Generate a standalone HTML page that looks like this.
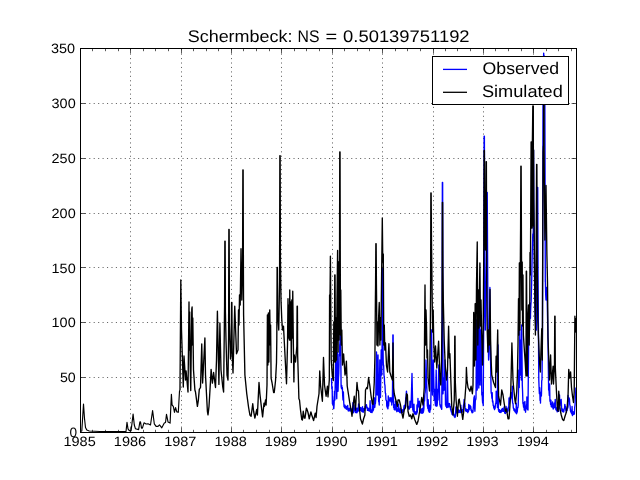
<!DOCTYPE html>
<html><head><meta charset="utf-8"><title>Schermbeck</title>
<style>html,body{margin:0;padding:0;background:#fff;}body{width:640px;height:480px;overflow:hidden;font-family:"Liberation Sans",sans-serif;}svg{display:block;will-change:transform;}text{text-rendering:geometricPrecision;}</style>
</head><body>
<svg width="640" height="480" viewBox="0 0 640 480"><rect x="0" y="0" width="640" height="480" fill="#ffffff"/>
<g stroke="#000" stroke-width="0.6" stroke-dasharray="1.11 3.33" fill="none"><line x1="130.5" y1="432.1" x2="130.5" y2="48"/><line x1="181.5" y1="432.1" x2="181.5" y2="48"/><line x1="231.5" y1="432.1" x2="231.5" y2="48"/><line x1="281.5" y1="432.1" x2="281.5" y2="48"/><line x1="332.5" y1="432.1" x2="332.5" y2="48"/><line x1="382.5" y1="432.1" x2="382.5" y2="48"/><line x1="433.5" y1="432.1" x2="433.5" y2="48"/><line x1="483.5" y1="432.1" x2="483.5" y2="48"/><line x1="533.5" y1="432.1" x2="533.5" y2="48"/><line x1="80.35" y1="377.5" x2="576" y2="377.5"/><line x1="80.35" y1="322.5" x2="576" y2="322.5"/><line x1="80.35" y1="267.5" x2="576" y2="267.5"/><line x1="80.35" y1="213.5" x2="576" y2="213.5"/><line x1="80.35" y1="158.5" x2="576" y2="158.5"/><line x1="80.35" y1="103.5" x2="576" y2="103.5"/></g>
<defs><clipPath id="pc"><rect x="80" y="48" width="497" height="385"/></clipPath></defs><g clip-path="url(#pc)"><path d="M331.50 378.00 L331.83 388.65 L332.16 386.79 L332.40 403.75 L332.49 396.39 L332.82 404.79 L333.15 400.63 L333.48 404.02 L333.60 408.75 L333.81 408.61 L334.14 403.86 L334.47 391.24 L334.80 396.25 L334.90 400.00 L335.80 355.00 L336.75 398.75 L337.50 352.50 L338.00 391.25 L338.10 389.81 L338.43 378.85 L338.76 373.15 L339.00 365.00 L339.09 354.38 L339.42 355.91 L339.75 344.37 L339.80 345.00 L340.08 340.08 L340.41 327.46 L340.50 327.00 L341.10 386.25 L341.40 388.25 L341.73 385.38 L342.06 389.14 L342.30 387.50 L342.39 387.96 L342.72 395.89 L343.00 400.00 L343.05 398.73 L343.38 391.85 L343.71 402.07 L344.04 406.76 L344.25 406.25 L344.37 404.97 L344.70 407.79 L345.03 405.28 L345.36 408.13 L345.69 406.50 L346.02 408.74 L346.10 407.50 L346.35 406.37 L346.68 409.29 L347.01 408.03 L347.34 406.37 L347.67 405.38 L348.00 410.00 L348.33 410.93 L348.66 409.13 L348.99 410.93 L349.32 408.26 L349.65 410.51 L349.98 408.54 L350.31 411.01 L350.50 409.40 L350.64 408.69 L350.97 410.61 L351.30 408.79 L351.63 410.87 L351.96 409.50 L352.29 412.26 L352.62 409.85 L352.95 402.59 L353.00 411.25 L353.28 409.97 L353.61 412.78 L353.94 404.89 L354.27 408.05 L354.60 410.89 L354.93 408.65 L355.26 411.12 L355.50 411.90 L355.59 412.50 L355.92 407.86 L356.25 412.46 L356.58 410.60 L356.91 412.73 L357.24 408.14 L357.57 411.78 L357.90 409.24 L358.00 410.60 L358.23 411.08 L358.56 403.86 L358.89 410.60 L359.22 408.12 L359.55 410.76 L359.88 408.21 L360.21 410.35 L360.50 408.75 L360.54 407.39 L360.87 409.98 L361.20 407.86 L361.53 411.19 L361.86 408.77 L362.19 411.56 L362.52 406.57 L362.85 411.97 L363.00 411.25 L363.18 409.48 L363.51 412.10 L363.84 408.60 L364.17 410.56 L364.50 408.45 L364.83 410.09 L364.90 408.75 L365.16 406.46 L365.49 408.21 L365.82 405.12 L366.10 405.00 L366.15 406.74 L366.48 404.68 L366.81 407.88 L367.14 407.02 L367.40 408.75 L367.47 410.36 L367.80 407.86 L368.13 410.35 L368.46 408.36 L368.79 410.75 L369.12 408.57 L369.25 409.40 L369.45 411.18 L369.78 408.96 L370.11 400.70 L370.44 409.34 L370.77 412.43 L371.10 409.81 L371.43 412.40 L371.75 411.90 L371.76 410.99 L372.09 412.50 L372.42 401.87 L372.75 411.17 L373.08 408.44 L373.41 410.12 L373.60 408.75 L373.74 407.34 L374.07 401.71 L374.40 397.80 L374.73 407.41 L374.90 406.25 L375.06 403.66 L375.39 403.68 L375.72 398.91 L375.75 400.00 L376.50 352.00 L377.20 395.00 L378.00 355.00 L378.60 400.00 L378.69 401.52 L379.02 402.28 L379.25 405.00 L379.80 360.00 L380.50 397.50 L381.20 350.00 L381.80 375.00 L382.08 345.25 L382.36 268.75 L382.64 268.75 L382.92 334.45 L383.20 360.00 L383.31 364.04 L383.64 365.53 L383.97 375.04 L384.25 377.50 L384.30 376.44 L384.63 383.95 L384.96 385.35 L385.29 392.37 L385.50 393.75 L385.62 393.40 L385.95 400.01 L386.28 400.26 L386.61 400.98 L386.75 406.25 L386.94 401.84 L387.27 407.75 L387.60 406.08 L387.93 408.80 L388.00 408.10 L388.26 395.95 L388.59 405.95 L388.92 400.44 L389.25 400.00 L389.58 400.91 L389.91 397.72 L390.24 400.20 L390.50 398.75 L390.57 398.01 L390.90 401.80 L391.23 401.68 L391.56 398.01 L391.75 405.00 L391.89 402.60 L392.22 402.16 L392.40 400.00 L392.58 381.80 L392.86 335.00 L393.14 335.00 L393.42 387.20 L393.60 407.50 L393.87 406.60 L394.20 409.40 L394.53 408.61 L394.86 404.45 L394.90 410.00 L395.19 408.61 L395.52 401.05 L395.85 409.18 L396.18 403.14 L396.50 410.60 L396.51 401.43 L396.84 411.70 L397.17 409.62 L397.50 410.90 L397.83 409.00 L398.00 410.00 L398.16 411.28 L398.49 404.22 L398.82 407.28 L399.15 410.20 L399.48 412.05 L399.81 410.04 L400.14 412.72 L400.47 408.10 L400.50 411.90 L400.80 412.46 L401.13 410.60 L401.46 412.72 L401.79 410.84 L402.12 412.51 L402.45 409.99 L402.78 412.41 L403.00 411.25 L403.11 409.48 L403.44 411.80 L403.77 408.48 L404.10 405.75 L404.43 407.71 L404.76 408.68 L404.90 407.50 L405.09 404.81 L405.42 403.83 L405.75 397.84 L406.08 396.60 L406.41 391.20 L406.50 391.25 L406.74 396.30 L407.07 399.00 L407.40 406.25 L407.73 407.60 L408.06 406.18 L408.39 408.24 L408.72 406.92 L409.05 409.32 L409.25 408.75 L409.38 407.71 L409.71 408.12 L410.04 401.09 L410.37 406.30 L410.50 405.00 L410.70 404.21 L411.03 407.43 L411.10 406.25 L412.00 373.50 L412.75 410.00 L413.01 408.97 L413.34 411.92 L413.67 410.77 L414.00 404.27 L414.25 412.50 L414.33 411.10 L414.66 414.00 L414.99 412.13 L415.32 414.11 L415.65 411.85 L415.98 414.51 L416.31 412.30 L416.64 411.01 L416.75 413.75 L416.97 405.05 L417.30 412.15 L417.63 408.11 L417.96 398.49 L418.00 407.50 L418.29 405.00 L418.62 406.39 L418.95 403.19 L419.00 403.75 L419.28 401.08 L419.61 407.48 L419.90 411.25 L419.94 412.60 L420.27 410.41 L420.60 412.79 L420.93 410.61 L421.26 409.16 L421.59 411.54 L421.75 412.50 L421.92 413.28 L422.25 408.31 L422.58 413.19 L422.91 410.46 L423.24 412.60 L423.57 402.71 L423.60 411.25 L423.90 408.35 L424.23 395.91 L424.50 400.00 L424.56 400.86 L424.89 393.86 L425.22 392.04 L425.50 387.50 L426.00 360.00 L427.40 406.25 L427.53 405.78 L427.86 408.48 L428.19 399.71 L428.52 410.87 L428.60 410.00 L428.85 408.94 L429.18 412.04 L429.51 405.13 L429.84 412.24 L429.90 411.25 L430.17 409.29 L430.50 409.56 L430.75 407.50 L431.08 385.80 L431.36 330.00 L431.64 330.00 L431.92 376.80 L432.50 395.00 L433.30 360.00 L434.25 400.00 L434.46 400.13 L434.79 389.50 L435.12 402.06 L435.45 405.77 L435.50 405.00 L436.20 370.00 L436.75 406.25 L436.77 405.09 L437.10 405.78 L437.43 401.71 L437.76 389.12 L438.00 400.00 L438.80 365.00 L439.90 405.00 L440.07 404.32 L440.40 406.76 L440.73 405.22 L441.06 407.97 L441.39 405.97 L441.72 409.32 L441.75 408.10 L442.08 344.93 L442.36 182.50 L442.64 182.50 L443.00 393.75 L443.04 391.70 L443.37 377.61 L443.70 388.92 L444.03 390.19 L444.25 387.50 L445.00 360.00 L445.50 405.00 L445.68 404.46 L446.01 406.31 L446.34 404.83 L446.67 407.58 L446.75 406.25 L447.40 370.00 L448.00 407.50 L448.32 405.62 L448.65 406.52 L448.98 403.48 L449.25 403.75 L449.31 404.84 L449.64 403.72 L449.97 407.51 L450.30 406.32 L450.50 408.75 L450.63 409.92 L450.96 409.41 L451.29 411.83 L451.62 411.25 L451.75 412.50 L451.95 414.20 L452.28 412.23 L452.61 414.75 L452.94 410.58 L453.27 409.74 L453.60 415.00 L453.93 414.23 L454.26 416.54 L454.59 415.33 L454.92 417.49 L455.25 416.90 L455.58 413.84 L455.91 407.03 L456.10 412.50 L456.24 410.96 L456.57 407.50 L456.90 410.49 L457.23 413.18 L457.56 408.39 L457.89 412.44 L458.00 411.25 L458.22 409.74 L458.55 412.48 L458.88 410.19 L459.21 411.91 L459.54 410.41 L459.87 412.48 L460.20 410.50 L460.50 411.25 L460.53 412.47 L460.86 405.25 L461.19 412.25 L461.52 410.15 L461.85 411.54 L462.18 409.75 L462.51 411.97 L462.84 409.56 L463.00 410.60 L463.17 410.04 L463.50 404.99 L463.83 404.27 L464.16 399.34 L464.25 400.00 L464.49 402.89 L464.82 402.94 L465.15 407.89 L465.48 408.80 L465.50 410.00 L465.81 410.98 L466.14 408.98 L466.47 411.31 L466.80 409.72 L467.13 411.66 L467.46 409.64 L467.79 412.67 L468.00 411.25 L468.12 410.21 L468.45 411.38 L468.78 404.39 L469.11 409.88 L469.44 405.51 L469.77 408.75 L470.10 405.52 L470.43 408.05 L470.50 406.25 L470.76 406.44 L471.09 410.47 L471.42 409.75 L471.75 411.90 L472.08 412.87 L472.41 410.97 L472.74 412.52 L473.00 411.90 L473.07 409.93 L473.40 406.93 L473.73 400.46 L474.00 397.50 L474.06 400.04 L474.39 395.87 L474.72 409.51 L474.90 411.25 L475.05 408.62 L475.38 399.00 L475.71 399.93 L476.00 398.00 L476.18 376.16 L476.46 320.00 L476.74 320.00 L477.02 370.40 L477.20 390.00 L477.58 367.60 L477.86 310.00 L478.14 310.00 L478.42 366.16 L478.80 388.00 L479.08 363.36 L479.36 300.00 L479.64 300.00 L479.92 361.20 L480.20 385.00 L481.00 330.00 L481.80 395.00 L481.98 392.17 L482.31 397.53 L482.40 400.00 L482.64 403.07 L482.97 402.72 L483.25 405.60 L483.80 300.00 L484.11 136.25 L484.39 136.25 L484.67 254.15 L484.80 300.00 L485.30 330.00 L485.90 300.00 L486.50 250.00 L486.68 233.90 L486.96 192.50 L487.24 192.50 L487.60 260.00 L488.00 330.00 L488.60 360.00 L488.91 353.84 L489.24 340.07 L489.30 340.00 L489.90 287.50 L490.40 350.00 L491.10 391.25 L491.22 393.21 L491.55 393.51 L491.88 398.27 L492.21 392.67 L492.40 400.00 L492.54 402.02 L492.87 401.01 L493.20 405.53 L493.53 405.34 L493.60 406.90 L493.86 408.11 L494.19 406.36 L494.52 409.61 L494.85 407.71 L494.90 408.75 L495.18 407.73 L495.51 403.54 L495.84 403.39 L496.10 400.00 L496.17 391.13 L496.50 403.35 L496.83 402.63 L497.16 402.65 L497.40 407.50 L497.76 345.00 L498.04 345.00 L498.40 410.00 L498.48 408.96 L498.81 411.43 L499.14 409.64 L499.47 412.23 L499.80 409.85 L500.13 412.30 L500.46 410.97 L500.50 411.90 L500.79 412.58 L501.12 410.47 L501.45 411.81 L501.78 409.15 L502.11 411.23 L502.40 410.00 L502.44 408.44 L502.77 411.10 L503.10 409.22 L503.43 411.42 L503.76 409.52 L504.09 406.91 L504.25 411.25 L504.42 410.63 L504.75 413.12 L505.08 410.32 L505.41 413.46 L505.74 411.40 L506.07 406.45 L506.10 412.50 L506.40 410.91 L506.73 408.19 L507.06 410.37 L507.39 412.05 L507.72 409.72 L508.00 410.00 L508.05 411.02 L508.38 407.04 L508.71 407.72 L509.04 397.98 L509.37 404.06 L509.70 400.25 L509.90 400.00 L510.03 400.80 L510.36 396.56 L510.69 397.71 L511.02 392.76 L511.10 393.75 L511.35 396.18 L511.68 394.68 L512.01 399.07 L512.34 386.29 L512.40 400.00 L512.67 403.11 L513.00 403.28 L513.33 407.90 L513.60 408.75 L513.66 408.17 L513.99 410.52 L514.32 408.97 L514.65 411.12 L514.98 409.80 L515.31 412.12 L515.50 411.25 L515.64 410.64 L515.97 413.02 L516.30 403.28 L516.63 413.72 L516.96 411.80 L517.00 412.50 L517.29 411.76 L517.62 407.53 L517.95 407.62 L518.25 405.00 L518.80 370.00 L519.25 387.50 L519.80 330.00 L520.40 375.00 L521.00 340.00 L521.30 380.00 L521.70 325.00 L522.30 385.00 L522.57 391.19 L522.90 402.68 L523.00 403.75 L523.23 403.81 L523.56 407.06 L523.89 402.71 L524.22 409.98 L524.25 408.75 L524.55 408.67 L524.88 401.36 L525.21 409.93 L525.50 411.25 L525.54 412.20 L525.87 408.46 L526.20 408.98 L526.53 404.77 L526.75 405.00 L526.86 397.03 L527.19 405.61 L527.52 409.48 L527.85 408.32 L528.00 410.00 L528.60 346.00 L528.84 328.65 L529.17 313.87 L529.50 330.00 L529.83 303.05 L530.16 318.58 L530.49 318.17 L530.50 315.00 L530.82 305.42 L531.15 301.14 L531.48 288.58 L531.50 290.00 L532.20 255.00 L532.80 234.00 L533.13 235.86 L533.30 229.00 L533.55 150.00 L533.80 200.00 L534.30 258.00 L534.80 300.00 L535.30 320.00 L535.44 318.28 L535.77 327.54 L536.10 324.11 L536.40 330.00 L537.00 250.00 L537.18 232.50 L537.46 187.50 L537.74 187.50 L538.02 268.50 L538.20 300.00 L538.80 380.00 L539.25 391.25 L539.40 393.64 L539.73 387.73 L540.06 400.48 L540.39 400.42 L540.50 403.10 L540.72 392.51 L541.05 396.21 L541.38 395.93 L541.50 393.75 L541.71 380.77 L542.00 380.00 L542.50 330.00 L542.90 150.00 L543.10 60.00 L543.36 64.27 L543.69 53.06 L544.02 64.31 L544.35 55.97 L544.68 66.72 L544.70 60.00 L545.00 150.00 L545.30 282.00 L545.34 279.21 L545.67 294.48 L546.00 300.00 L546.33 289.92 L546.50 287.50 L546.66 293.46 L546.99 292.85 L547.20 300.00 L548.00 340.00 L548.60 387.50 L548.64 389.91 L548.97 389.84 L549.30 395.50 L549.63 384.02 L549.90 400.00 L549.96 401.24 L550.29 399.88 L550.62 404.38 L550.95 400.17 L551.10 405.00 L551.28 406.59 L551.61 404.65 L551.94 407.17 L552.27 404.38 L552.60 401.92 L552.93 407.11 L553.00 408.10 L553.26 409.01 L553.59 406.10 L553.92 407.76 L554.25 403.16 L554.50 406.25 L554.58 407.68 L554.91 405.45 L555.24 399.40 L555.57 406.72 L555.90 409.71 L556.10 408.75 L556.23 407.45 L556.56 410.51 L556.89 409.59 L557.22 411.92 L557.40 411.25 L557.55 410.43 L557.88 411.45 L558.21 406.85 L558.54 411.41 L558.75 410.00 L558.87 408.09 L559.20 408.39 L559.53 395.00 L559.86 405.49 L560.19 401.51 L560.52 401.94 L560.60 400.00 L560.85 400.44 L561.18 399.47 L561.51 406.30 L561.84 410.90 L561.90 410.00 L562.17 408.74 L562.50 411.29 L562.83 409.58 L563.16 411.97 L563.49 409.84 L563.75 411.25 L563.82 411.73 L564.15 408.59 L564.48 408.49 L564.81 404.33 L565.00 405.00 L565.14 406.70 L565.47 406.37 L565.80 410.52 L566.13 409.36 L566.25 411.25 L566.46 412.24 L566.79 408.35 L567.12 410.37 L567.45 406.65 L567.78 408.08 L568.10 406.25 L568.11 395.40 L568.44 400.85 L568.77 401.37 L569.10 397.94 L569.40 400.00 L569.43 398.83 L569.76 404.78 L570.09 405.74 L570.42 410.55 L570.60 411.25 L570.75 410.11 L571.08 412.73 L571.41 411.13 L571.74 413.85 L572.07 406.42 L572.40 415.57 L572.50 414.40 L572.73 412.90 L573.06 411.60 L573.39 412.50 L573.72 414.46 L574.05 412.71 L574.38 413.98 L574.40 413.10 L574.71 407.31 L575.04 404.92 L575.25 400.00 L575.37 396.02 L575.70 392.17 L575.90 387.50" fill="none" stroke="#0000ff" stroke-width="1.35" stroke-linejoin="round" stroke-linecap="butt"/><path d="M80.50 431.50 L81.80 431.00 L83.50 404.00 L84.50 418.50 L85.50 427.50 L86.80 430.00 L89.30 431.00 L100.00 431.50 L126.00 431.50 L127.00 422.30 L128.00 428.80 L129.30 430.60 L131.10 430.60 L133.10 414.00 L134.30 425.00 L135.50 428.80 L138.60 429.60 L139.90 421.90 L140.50 421.90 L141.50 428.10 L142.40 428.10 L144.00 422.80 L146.10 424.00 L148.00 423.80 L150.50 425.00 L152.60 410.60 L154.30 423.80 L156.10 426.30 L158.00 426.30 L159.50 424.80 L161.80 427.80 L164.30 423.10 L165.50 422.50 L166.50 414.40 L168.00 421.90 L170.10 423.10 L171.40 394.40 L172.10 405.00 L173.30 406.30 L174.50 412.30 L175.50 407.50 L176.80 411.90 L178.30 412.30 L179.50 391.30 L180.00 390.00" fill="none" stroke="#000000" stroke-width="1.15" stroke-linejoin="round" stroke-linecap="butt"/><path d="M180.00 390.00 L180.80 280.00 L181.50 330.00 L183.30 387.00 L184.00 356.00 L185.50 380.00 L186.10 371.00 L188.00 392.00 L188.70 330.00 L189.00 302.00 L189.40 350.00 L189.70 312.00 L190.20 365.00 L190.75 390.60 L191.40 335.00 L191.80 309.00 L192.10 307.00 L192.50 345.00 L192.80 318.00 L193.50 370.00 L194.90 390.00 L195.50 392.00 L197.40 406.30 L198.30 400.60 L199.30 389.40 L200.50 387.50 L201.75 344.00 L202.60 383.00 L203.60 363.75 L204.90 338.00 L205.50 375.00 L207.40 411.30 L208.00 414.80 L209.00 406.30 L210.50 381.30 L211.10 369.40 L212.40 383.10 L213.60 372.50 L215.50 387.50 L216.50 360.00 L217.40 311.25 L218.90 384.40 L219.90 323.00 L221.00 370.00 L222.75 387.00 L223.60 392.00 L224.30 330.00 L224.58 305.15 L224.86 241.25 L225.14 241.25 L225.42 312.35 L226.00 340.00 L227.00 375.00 L228.00 380.00 L228.58 337.86 L228.86 229.50 L229.14 229.50 L229.42 322.74 L230.50 359.00 L231.33 343.18 L231.61 302.50 L231.89 302.50 L232.17 353.26 L233.00 373.00 L234.75 306.25 L236.50 353.75 L238.00 350.00 L238.50 310.00 L239.00 325.00 L239.50 295.00 L240.20 305.00 L241.00 248.75 L241.80 300.00 L242.58 263.60 L242.86 170.00 L243.14 170.00 L243.42 274.40 L243.60 315.00 L244.90 375.00 L246.75 393.75 L248.60 407.50 L249.90 415.00 L251.10 416.25 L252.75 403.75 L253.60 411.25 L254.90 418.10 L256.75 409.40 L257.40 415.00 L259.00 382.50 L259.90 393.75 L261.10 404.40 L262.60 416.90 L264.00 403.10 L264.50 406.25 L265.50 400.00 L266.10 405.00 L267.00 385.00 L267.40 315.00 L267.90 365.00 L268.40 313.00 L268.90 362.00 L269.30 320.00 L269.75 310.00 L270.30 345.00 L270.60 325.00 L271.10 378.10 L272.00 382.50 L273.60 392.50 L274.25 392.50 L275.50 381.00 L276.50 362.50 L276.80 340.00 L277.11 267.50 L277.39 267.50 L277.67 312.50 L278.75 330.00 L279.58 281.21 L279.86 155.75 L280.14 155.75 L280.42 259.61 L281.00 300.00 L281.75 318.75 L282.50 330.00 L283.50 326.25 L285.50 365.00 L286.50 383.75 L287.50 345.00 L288.00 298.75 L288.50 338.00 L289.00 305.00 L289.40 340.00 L289.75 290.00 L290.30 340.00 L290.80 302.00 L291.30 362.50 L291.80 300.00 L292.30 338.00 L292.75 291.25 L293.30 340.00 L293.90 381.90 L294.25 355.00 L295.50 362.00 L296.83 346.39 L297.11 306.25 L297.39 306.25 L297.67 355.75 L298.25 375.00 L298.90 398.75 L299.50 400.00 L300.50 410.00 L301.75 419.40 L302.40 420.00 L303.25 411.25 L304.25 418.10 L305.00 418.10 L306.40 408.10 L307.40 410.60 L308.00 412.50 L309.25 418.75 L310.90 411.90 L311.75 415.00 L313.60 420.60 L315.25 413.10 L316.10 417.50 L317.00 406.25 L318.00 400.00 L319.00 393.75 L319.75 371.00 L320.50 385.00 L322.40 401.25 L323.50 357.50 L324.50 385.00 L326.10 396.25 L327.40 386.25 L328.00 396.90 L329.30 380.00 L329.60 295.00 L329.90 310.00 L330.40 256.25 L331.20 360.00 L332.30 376.00 L333.30 380.60 L333.80 322.00 L334.30 362.00 L334.48 337.64 L334.76 275.00 L335.04 275.00 L335.32 337.64 L335.50 362.00 L336.00 318.00 L336.50 360.00 L337.00 300.00 L337.60 250.50 L338.10 352.00 L338.46 262.00 L338.74 262.00 L339.10 340.00 L339.48 287.36 L339.76 152.00 L340.04 152.00 L340.32 283.76 L340.50 335.00 L340.80 290.00 L341.30 345.00 L341.80 330.00 L342.50 365.00 L343.60 354.00 L345.00 375.00 L345.60 372.00 L346.40 361.25 L347.20 386.00 L348.00 391.25 L349.90 403.75 L351.10 410.00 L352.00 416.25 L353.00 406.25 L354.25 396.25 L355.50 410.00 L356.10 398.75 L357.00 382.50 L357.75 390.00 L358.50 391.00 L359.25 406.25 L360.50 418.75 L362.40 424.00 L363.60 418.75 L364.90 415.00 L365.50 390.00 L366.75 387.50 L367.40 388.75 L368.60 377.50 L369.90 386.25 L371.10 396.25 L372.40 403.75 L373.00 404.40 L374.25 382.50 L374.90 358.00 L375.40 300.00 L375.58 284.25 L375.86 243.75 L376.14 243.75 L376.42 284.25 L376.60 300.00 L376.90 345.00 L377.40 322.00 L378.00 346.00 L378.60 318.00 L379.25 302.50 L379.90 345.00 L380.40 318.00 L380.90 340.00 L381.30 300.00 L382.30 218.00 L382.80 262.00 L383.30 254.00 L383.60 310.00 L383.80 345.00 L384.30 325.00 L384.80 350.00 L385.50 343.00 L386.50 366.00 L387.60 372.00 L388.90 343.75 L389.80 372.00 L391.00 376.00 L392.40 380.00 L393.00 343.00 L393.60 388.00 L394.25 393.75 L395.50 398.75 L397.40 406.25 L398.00 400.00 L399.25 400.00 L400.50 405.00 L401.75 412.50 L403.00 418.10 L404.25 410.00 L405.50 407.50 L406.50 393.75 L407.40 395.00 L408.00 411.25 L409.25 416.25 L410.50 415.00 L411.75 418.75 L413.00 413.75 L414.90 420.00 L416.75 424.40 L418.00 421.25 L419.25 413.75 L420.50 406.25 L421.75 397.50 L423.00 405.00 L424.25 387.50 L424.50 340.00 L425.00 285.00 L425.50 345.00 L426.00 310.00 L426.50 326.00 L427.00 358.00 L427.50 350.00 L428.10 378.00 L429.50 391.00 L430.30 330.00 L430.58 291.64 L430.86 193.00 L431.14 193.00 L431.42 234.04 L431.60 250.00 L432.20 300.00 L432.60 332.00 L433.20 310.00 L433.80 345.00 L434.60 362.00 L435.50 346.00 L436.80 368.00 L438.60 341.25 L440.00 380.00 L440.80 385.00 L441.50 360.00 L442.08 315.90 L442.36 202.50 L442.64 202.50 L442.92 272.70 L443.30 300.00 L444.20 340.00 L445.20 365.00 L446.50 380.00 L447.50 370.00 L448.60 326.25 L449.30 358.00 L449.90 353.75 L451.10 387.50 L451.75 406.25 L453.00 415.00 L454.25 400.00 L454.48 382.15 L454.76 336.25 L455.04 336.25 L455.32 382.15 L456.10 400.00 L457.40 416.25 L458.60 400.00 L459.25 399.00 L460.50 407.50 L461.75 412.50 L462.75 419.40 L463.60 412.50 L464.90 398.75 L466.10 382.50 L466.40 367.50 L467.00 380.00 L468.00 387.50 L469.90 391.25 L471.10 386.25 L472.40 393.75 L473.00 385.00 L473.70 312.50 L474.40 366.00 L474.88 348.57 L475.16 303.75 L475.44 303.75 L475.72 344.25 L475.90 360.00 L476.50 285.00 L477.25 242.00 L477.80 345.00 L478.40 290.00 L478.90 328.00 L479.40 295.00 L479.90 263.00 L480.50 326.00 L481.00 300.00 L481.60 330.00 L482.50 365.00 L483.20 330.00 L483.80 250.00 L484.11 150.50 L484.39 150.50 L484.67 207.74 L484.80 230.00 L485.30 250.00 L485.80 220.00 L486.11 161.75 L486.39 161.75 L486.70 280.00 L487.20 330.00 L487.90 352.00 L488.60 330.00 L489.30 345.00 L490.00 289.50 L490.60 340.00 L491.20 362.00 L491.75 375.00 L493.60 382.50 L495.50 387.50 L496.10 356.25 L496.70 372.00 L497.70 330.00 L498.60 396.25 L500.50 405.00 L501.75 390.00 L503.00 395.00 L504.25 403.75 L505.50 411.25 L506.50 409.00 L508.00 418.75 L509.00 418.75 L509.90 406.25 L510.75 391.25 L511.90 343.00 L513.00 380.00 L513.60 387.50 L514.90 400.00 L515.50 403.75 L516.75 391.25 L517.40 375.00 L518.00 345.00 L518.50 298.75 L518.90 335.00 L519.08 314.84 L519.36 263.00 L519.64 263.00 L519.90 330.00 L520.40 255.00 L520.58 230.15 L520.86 166.25 L521.14 166.25 L521.50 255.00 L521.80 310.00 L522.20 262.00 L522.60 326.00 L523.00 275.00 L523.40 335.00 L524.50 352.00 L525.20 362.00 L526.00 376.00 L526.26 271.25 L526.54 271.25 L526.90 340.00 L527.30 376.00 L527.90 318.00 L528.50 305.00 L529.20 345.00 L529.80 300.00 L530.00 252.50 L530.40 275.00 L530.80 200.00 L531.11 142.00 L531.39 142.00 L531.55 228.00 L531.71 150.00 L531.99 150.00 L532.15 228.00 L532.40 140.00 L532.60 125.00 L532.80 106.00 L533.30 106.00 L533.45 226.00 L533.60 150.00 L533.80 200.00 L534.40 255.00 L534.90 300.00 L535.40 335.00 L535.80 300.00 L536.30 220.00 L536.61 164.50 L536.89 164.50 L537.20 260.00 L537.80 320.00 L538.60 340.00 L539.50 362.00 L540.30 372.00 L541.00 350.00 L541.75 328.75 L542.30 360.00 L542.70 255.00 L543.10 152.00 L543.40 146.00 L543.60 150.00 L543.71 60.00 L543.99 60.00 L544.10 150.00 L544.50 200.00 L544.90 240.00 L545.40 220.00 L546.00 185.50 L546.90 255.00 L547.50 282.00 L548.00 337.50 L549.50 380.00 L550.60 355.00 L551.50 384.00 L553.10 366.25 L553.50 384.00 L554.48 365.03 L554.76 316.25 L555.04 316.25 L555.32 367.55 L556.25 387.50 L556.90 400.00 L557.50 410.00 L558.10 411.25 L558.75 391.25 L559.40 400.00 L560.00 408.75 L561.25 415.00 L562.50 419.40 L563.75 420.60 L565.00 416.25 L566.25 412.50 L567.25 406.25 L568.10 393.75 L568.75 369.40 L569.60 378.00 L570.60 372.00 L571.50 387.50 L572.50 396.25 L573.50 402.50 L574.20 392.00 L574.90 316.25 L575.50 332.00 L576.30 318.00" fill="none" stroke="#000000" stroke-width="1.35" stroke-linejoin="round" stroke-linecap="butt"/></g>
<rect x="80.5" y="48.5" width="496" height="384" fill="none" stroke="#000" stroke-width="1" shape-rendering="crispEdges"/>
<g stroke="#000" stroke-width="0.65"><line x1="80.5" y1="432" x2="80.5" y2="427.6"/><line x1="80.5" y1="49" x2="80.5" y2="53.4"/><line x1="92.5" y1="432" x2="92.5" y2="429.8"/><line x1="92.5" y1="49" x2="92.5" y2="51.2"/><line x1="105.5" y1="432" x2="105.5" y2="429.8"/><line x1="105.5" y1="49" x2="105.5" y2="51.2"/><line x1="118.5" y1="432" x2="118.5" y2="429.8"/><line x1="118.5" y1="49" x2="118.5" y2="51.2"/><line x1="130.5" y1="432" x2="130.5" y2="427.6"/><line x1="130.5" y1="49" x2="130.5" y2="53.4"/><line x1="143.5" y1="432" x2="143.5" y2="429.8"/><line x1="143.5" y1="49" x2="143.5" y2="51.2"/><line x1="155.5" y1="432" x2="155.5" y2="429.8"/><line x1="155.5" y1="49" x2="155.5" y2="51.2"/><line x1="168.5" y1="432" x2="168.5" y2="429.8"/><line x1="168.5" y1="49" x2="168.5" y2="51.2"/><line x1="181.5" y1="432" x2="181.5" y2="427.6"/><line x1="181.5" y1="49" x2="181.5" y2="53.4"/><line x1="193.5" y1="432" x2="193.5" y2="429.8"/><line x1="193.5" y1="49" x2="193.5" y2="51.2"/><line x1="206.5" y1="432" x2="206.5" y2="429.8"/><line x1="206.5" y1="49" x2="206.5" y2="51.2"/><line x1="218.5" y1="432" x2="218.5" y2="429.8"/><line x1="218.5" y1="49" x2="218.5" y2="51.2"/><line x1="231.5" y1="432" x2="231.5" y2="427.6"/><line x1="231.5" y1="49" x2="231.5" y2="53.4"/><line x1="243.5" y1="432" x2="243.5" y2="429.8"/><line x1="243.5" y1="49" x2="243.5" y2="51.2"/><line x1="256.5" y1="432" x2="256.5" y2="429.8"/><line x1="256.5" y1="49" x2="256.5" y2="51.2"/><line x1="269.5" y1="432" x2="269.5" y2="429.8"/><line x1="269.5" y1="49" x2="269.5" y2="51.2"/><line x1="281.5" y1="432" x2="281.5" y2="427.6"/><line x1="281.5" y1="49" x2="281.5" y2="53.4"/><line x1="294.5" y1="432" x2="294.5" y2="429.8"/><line x1="294.5" y1="49" x2="294.5" y2="51.2"/><line x1="306.5" y1="432" x2="306.5" y2="429.8"/><line x1="306.5" y1="49" x2="306.5" y2="51.2"/><line x1="319.5" y1="432" x2="319.5" y2="429.8"/><line x1="319.5" y1="49" x2="319.5" y2="51.2"/><line x1="332.5" y1="432" x2="332.5" y2="427.6"/><line x1="332.5" y1="49" x2="332.5" y2="53.4"/><line x1="344.5" y1="432" x2="344.5" y2="429.8"/><line x1="344.5" y1="49" x2="344.5" y2="51.2"/><line x1="357.5" y1="432" x2="357.5" y2="429.8"/><line x1="357.5" y1="49" x2="357.5" y2="51.2"/><line x1="369.5" y1="432" x2="369.5" y2="429.8"/><line x1="369.5" y1="49" x2="369.5" y2="51.2"/><line x1="382.5" y1="432" x2="382.5" y2="427.6"/><line x1="382.5" y1="49" x2="382.5" y2="53.4"/><line x1="395.5" y1="432" x2="395.5" y2="429.8"/><line x1="395.5" y1="49" x2="395.5" y2="51.2"/><line x1="407.5" y1="432" x2="407.5" y2="429.8"/><line x1="407.5" y1="49" x2="407.5" y2="51.2"/><line x1="420.5" y1="432" x2="420.5" y2="429.8"/><line x1="420.5" y1="49" x2="420.5" y2="51.2"/><line x1="433.5" y1="432" x2="433.5" y2="427.6"/><line x1="433.5" y1="49" x2="433.5" y2="53.4"/><line x1="445.5" y1="432" x2="445.5" y2="429.8"/><line x1="445.5" y1="49" x2="445.5" y2="51.2"/><line x1="457.5" y1="432" x2="457.5" y2="429.8"/><line x1="457.5" y1="49" x2="457.5" y2="51.2"/><line x1="470.5" y1="432" x2="470.5" y2="429.8"/><line x1="470.5" y1="49" x2="470.5" y2="51.2"/><line x1="483.5" y1="432" x2="483.5" y2="427.6"/><line x1="483.5" y1="49" x2="483.5" y2="53.4"/><line x1="495.5" y1="432" x2="495.5" y2="429.8"/><line x1="495.5" y1="49" x2="495.5" y2="51.2"/><line x1="508.5" y1="432" x2="508.5" y2="429.8"/><line x1="508.5" y1="49" x2="508.5" y2="51.2"/><line x1="521.5" y1="432" x2="521.5" y2="429.8"/><line x1="521.5" y1="49" x2="521.5" y2="51.2"/><line x1="533.5" y1="432" x2="533.5" y2="427.6"/><line x1="533.5" y1="49" x2="533.5" y2="53.4"/><line x1="546.5" y1="432" x2="546.5" y2="429.8"/><line x1="546.5" y1="49" x2="546.5" y2="51.2"/><line x1="558.5" y1="432" x2="558.5" y2="429.8"/><line x1="558.5" y1="49" x2="558.5" y2="51.2"/><line x1="571.5" y1="432" x2="571.5" y2="429.8"/><line x1="571.5" y1="49" x2="571.5" y2="51.2"/><line x1="81" y1="432.5" x2="85.4" y2="432.5"/><line x1="576" y1="432.5" x2="571.6" y2="432.5"/><line x1="81" y1="377.5" x2="85.4" y2="377.5"/><line x1="576" y1="377.5" x2="571.6" y2="377.5"/><line x1="81" y1="322.5" x2="85.4" y2="322.5"/><line x1="576" y1="322.5" x2="571.6" y2="322.5"/><line x1="81" y1="267.5" x2="85.4" y2="267.5"/><line x1="576" y1="267.5" x2="571.6" y2="267.5"/><line x1="81" y1="213.5" x2="85.4" y2="213.5"/><line x1="576" y1="213.5" x2="571.6" y2="213.5"/><line x1="81" y1="158.5" x2="85.4" y2="158.5"/><line x1="576" y1="158.5" x2="571.6" y2="158.5"/><line x1="81" y1="103.5" x2="85.4" y2="103.5"/><line x1="576" y1="103.5" x2="571.6" y2="103.5"/><line x1="81" y1="48.5" x2="85.4" y2="48.5"/><line x1="576" y1="48.5" x2="571.6" y2="48.5"/></g>
<g font-family="Liberation Sans, sans-serif" font-size="13.5" fill="#000"><text x="79.6" y="445.6" text-anchor="middle" textLength="32.3" lengthAdjust="spacingAndGlyphs">1985</text><text x="130.0" y="445.6" text-anchor="middle" textLength="32.3" lengthAdjust="spacingAndGlyphs">1986</text><text x="180.3" y="445.6" text-anchor="middle" textLength="32.3" lengthAdjust="spacingAndGlyphs">1987</text><text x="230.7" y="445.6" text-anchor="middle" textLength="32.3" lengthAdjust="spacingAndGlyphs">1988</text><text x="281.0" y="445.6" text-anchor="middle" textLength="32.3" lengthAdjust="spacingAndGlyphs">1989</text><text x="331.4" y="445.6" text-anchor="middle" textLength="32.3" lengthAdjust="spacingAndGlyphs">1990</text><text x="381.8" y="445.6" text-anchor="middle" textLength="32.3" lengthAdjust="spacingAndGlyphs">1991</text><text x="432.1" y="445.6" text-anchor="middle" textLength="32.3" lengthAdjust="spacingAndGlyphs">1992</text><text x="482.5" y="445.6" text-anchor="middle" textLength="32.3" lengthAdjust="spacingAndGlyphs">1993</text><text x="532.8" y="445.6" text-anchor="middle" textLength="32.3" lengthAdjust="spacingAndGlyphs">1994</text><text x="77.0" y="437.1" text-anchor="end" textLength="7.6" lengthAdjust="spacingAndGlyphs">0</text><text x="75.7" y="382.2" text-anchor="end" textLength="15.8" lengthAdjust="spacingAndGlyphs">50</text><text x="75.7" y="327.4" text-anchor="end" textLength="24.1" lengthAdjust="spacingAndGlyphs">100</text><text x="75.7" y="272.5" text-anchor="end" textLength="24.1" lengthAdjust="spacingAndGlyphs">150</text><text x="75.7" y="217.7" text-anchor="end" textLength="24.1" lengthAdjust="spacingAndGlyphs">200</text><text x="75.7" y="162.8" text-anchor="end" textLength="24.1" lengthAdjust="spacingAndGlyphs">250</text><text x="75.7" y="108.0" text-anchor="end" textLength="24.1" lengthAdjust="spacingAndGlyphs">300</text><text x="75.0" y="53.1" text-anchor="end" textLength="24.1" lengthAdjust="spacingAndGlyphs">350</text></g>
<g font-family="Liberation Sans, sans-serif" font-size="16.9" fill="#000"><text x="187.7" y="41.5" textLength="104.8" lengthAdjust="spacingAndGlyphs">Schermbeck:</text><text x="297.5" y="41.5" textLength="21.9" lengthAdjust="spacingAndGlyphs">NS</text><text x="325.4" y="41.5" textLength="11.7" lengthAdjust="spacingAndGlyphs">=</text><text x="343.1" y="41.5" textLength="126.5" lengthAdjust="spacingAndGlyphs">0.50139751192</text></g>
<rect x="432.5" y="56.5" width="136" height="48" fill="#fff" stroke="#000" stroke-width="1" shape-rendering="crispEdges"/>
<line x1="443" y1="69.4" x2="467" y2="69.4" stroke="#0000ff" stroke-width="1.3"/>
<line x1="443" y1="92.3" x2="467" y2="92.3" stroke="#000" stroke-width="1.3"/>
<text x="482.6" y="73.8" font-family="Liberation Sans, sans-serif" font-size="16.9" textLength="76.6" lengthAdjust="spacingAndGlyphs">Observed</text>
<text x="481.9" y="97" font-family="Liberation Sans, sans-serif" font-size="16.9" textLength="80.9" lengthAdjust="spacingAndGlyphs">Simulated</text></svg>
</body></html>
